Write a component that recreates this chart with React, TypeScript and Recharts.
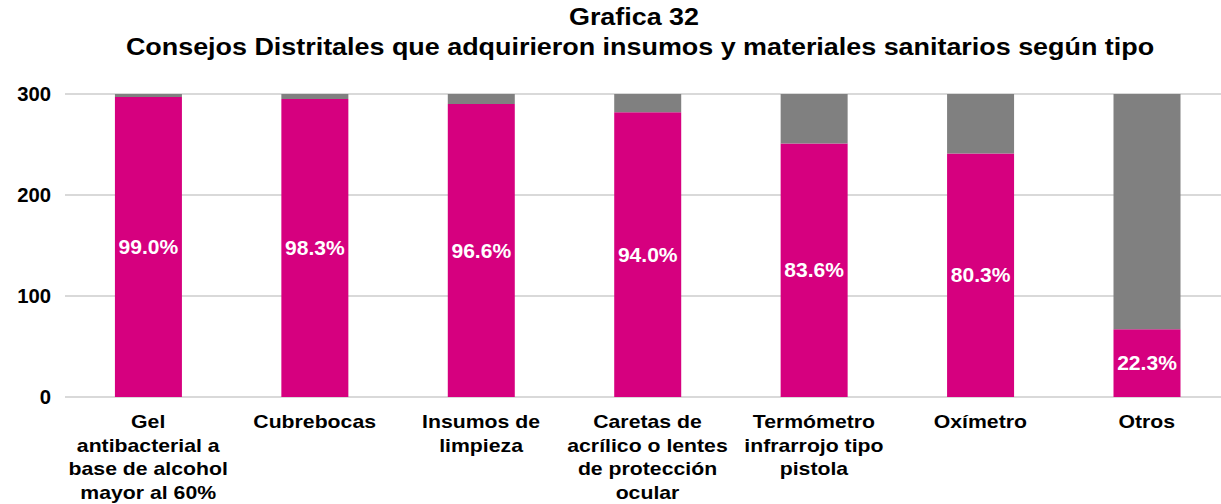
import React from 'react';
import { BarChart, Bar, XAxis, YAxis, CartesianGrid, LabelList } from 'recharts';

const categories = [
  'Gel\nantibacterial a\nbase de alcohol\nmayor al 60%',
  'Cubrebocas',
  'Insumos de\nlimpieza',
  'Caretas de\nacrílico o lentes\nde protección\nocular',
  'Termómetro\ninfrarrojo tipo\npistola',
  'Oxímetro',
  'Otros',
];
const adquirieron = [297, 295, 290, 282, 251, 241, 67];
const noAdquirieron = [3, 5, 10, 18, 49, 59, 233];
const porcentajes = ['99.0%', '98.3%', '96.6%', '94.0%', '83.6%', '80.3%', '22.3%'];
const yTicks = [0, 100, 200, 300];

const data = categories.map((c, i) => ({
  name: c,
  si: adquirieron[i],
  no: noAdquirieron[i],
  pct: porcentajes[i],
}));

const FONT = 'Arial, "Liberation Sans", sans-serif';

const XTick = (props: any) => {
  const { x, y, payload } = props;
  const lines = String(payload.value).split('\n');
  return (
    <text
      transform={`translate(${x},${y}) scale(1.13,1)`}
      x={0}
      y={0}
      textAnchor="middle"
      fontFamily={FONT}
      fontWeight="bold"
      fontSize={18.8}
      fill="#000"
    >
      {lines.map((l, i) => (
        <tspan key={i} x={0} dy={i === 0 ? 23 : 23.6}>
          {l}
        </tspan>
      ))}
    </text>
  );
};

const YTick = (props: any) => {
  const { x, y, payload } = props;
  return (
    <text
      transform={`translate(${x},${y}) scale(1.04,1)`}
      x={0}
      y={0}
      dy={7}
      textAnchor="end"
      fontFamily={FONT}
      fontWeight="bold"
      fontSize={19.5}
      fill="#000"
    >
      {payload.value}
    </text>
  );
};

const PctLabel = (props: any) => {
  const { x, y, width, height, value } = props;
  const cx = Number(x) + Number(width) / 2;
  const cy = Number(y) + Number(height) / 2;
  return (
    <text
      transform={`translate(${cx},${cy}) scale(1.08,1)`}
      x={0}
      y={0}
      dy={7}
      textAnchor="middle"
      fontFamily={FONT}
      fontWeight="bold"
      fontSize={19.5}
      fill="#FFFFFF"
    >
      {value}
    </text>
  );
};

export default function App() {
  return (
    <div style={{ position: 'fixed', left: 0, top: 0, width: 1221, height: 504, overflow: 'hidden', background: '#fff' }}>
      <svg width={1221} height={70} style={{ position: 'absolute', left: 0, top: 0 }}>
        <text
          transform="translate(634,25) scale(1.17,1)"
          x={0}
          y={0}
          textAnchor="middle"
          fontFamily={FONT}
          fontWeight="bold"
          fontSize={23}
          fill="#000"
        >
          Grafica 32
        </text>
        <text
          transform="translate(640,55) scale(1.17,1)"
          x={0}
          y={0}
          textAnchor="middle"
          fontFamily={FONT}
          fontWeight="bold"
          fontSize={23}
          fill="#000"
        >
          Consejos Distritales que adquirieron insumos y materiales sanitarios según tipo
        </text>
      </svg>
      <div style={{ position: 'absolute', left: 0, top: 0 }}>
        <BarChart
          width={1235}
          height={504}
          data={data}
          margin={{ top: 94, right: 5, bottom: 0, left: 0 }}
          barCategoryGap="30%"
        >
          <CartesianGrid vertical={false} stroke="#D9D9D9" strokeWidth={2} />
          <XAxis
            dataKey="name"
            axisLine={false}
            tickLine={false}
            interval={0}
            tick={<XTick />}
            height={107}
          />
          <YAxis
            width={65}
            domain={[0, 300]}
            ticks={yTicks}
            axisLine={false}
            tickLine={false}
            tickSize={0}
            tickMargin={14}
            tick={<YTick />}
          />
          <Bar dataKey="si" stackId="a" fill="#D6007F" isAnimationActive={false}>
            <LabelList dataKey="pct" content={<PctLabel />} />
          </Bar>
          <Bar dataKey="no" stackId="a" fill="#808080" isAnimationActive={false} />
        </BarChart>
      </div>
    </div>
  );
}
